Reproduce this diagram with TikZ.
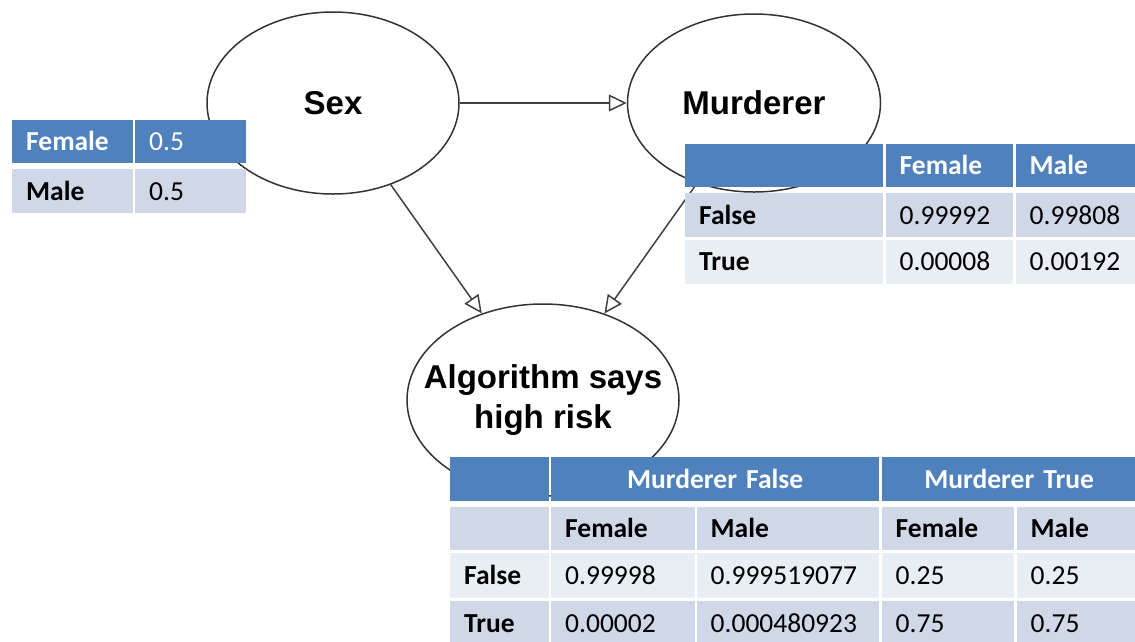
\documentclass[tikz,border=0pt]{standalone}
\usepackage{fontspec}
\setmainfont{Carlito}
\newfontfamily\arialfont{Liberation Sans}
\usetikzlibrary{positioning,shapes.geometric,arrows.meta}

\definecolor{hdrblue}{HTML}{4F81BD}
\definecolor{rowdark}{HTML}{D0D8E8}
\definecolor{rowpale}{HTML}{E9EDF4}

% table cell: style, name, x, y, width, height, text
\newcommand{\tcell}[7]{%
  \pgfmathsetmacro{\cellw}{#5-28}%
  \node[#1, minimum width=#5pt, minimum height=#6pt, text width=\cellw pt] (#2) at (#3,#4) {#7};}

\begin{document}
\begin{tikzpicture}[x=1pt, y=-1pt]
    \tikzstyle{var}=[ellipse, draw=black!80, line width=1.5pt, fill=white, inner sep=0pt, align=center, font=\arialfont\bfseries\fontsize{33}{40}\selectfont]
    \tikzstyle{edge}=[-{Triangle[open,length=18pt,width=17pt]}, draw=black!75, line width=1.5pt]
    \tikzstyle{cell}=[rectangle, anchor=north west, inner xsep=14pt, inner ysep=0pt, text height=18pt, text depth=0pt, font=\fontsize{27.5}{33}\selectfont]
    \tikzstyle{hcell}=[cell, fill=hdrblue, text=white]
    \tikzstyle{hspan}=[hcell, align=center]
    \tikzstyle{dcell}=[cell, fill=rowdark]
    \tikzstyle{pcell}=[cell, fill=rowpale]

    \useasboundingbox (0,0) rectangle (1135,641);

    \node[var, minimum width=252pt, minimum height=182pt] (sex) at (333,103) {Sex};
    \node[var, minimum width=253pt, minimum height=178pt, right=167pt of sex] (murderer) {Murderer};
    \node[var, minimum width=272pt, minimum height=192pt] (algo) at (543,400)
        {\makebox[0pt]{Algorithm says}\\\makebox[0pt]{high risk}};

    \draw[edge] (sex) -- (murderer);
    \draw[edge] (sex) -- (algo);
    \draw[edge] (murderer) -- (algo);

    % prior of sex
    \tcell{hcell}{pF}{12}{120}{121}{43}{\textbf{Female}}
    \tcell{hcell}{pFv}{135}{120}{111}{43}{0.5}
    \tcell{dcell}{pM}{12}{169}{121}{44}{\textbf{Male}}
    \tcell{dcell}{pMv}{135}{169}{111}{44}{0.5}

    % murderer given sex
    \tcell{hcell}{mH}{685}{144}{198}{43}{}
    \tcell{hcell}{mHF}{885.5}{144}{127.5}{43}{\textbf{Female}}
    \tcell{hcell}{mHM}{1015.5}{144}{121}{43}{\textbf{Male}}
    \tcell{dcell}{mF}{685}{193}{198}{44}{\textbf{False}}
    \tcell{dcell}{mFF}{885.5}{193}{127.5}{44}{0.99992}
    \tcell{dcell}{mFM}{1015.5}{193}{121}{44}{0.99808}
    \tcell{pcell}{mT}{685}{239.5}{198}{44.5}{\textbf{True}}
    \tcell{pcell}{mTF}{885.5}{239.5}{127.5}{44.5}{0.00008}
    \tcell{pcell}{mTM}{1015.5}{239.5}{121}{44.5}{0.00192}

    % algorithm given murderer and sex
    \tcell{hcell}{aH}{450}{457}{99}{44}{}
    \tcell{hspan}{aHF}{551}{457}{328}{44}{\textbf{Murderer False}}
    \tcell{hspan}{aHT}{881.5}{457}{255}{44}{\textbf{Murderer True}}
    \tcell{dcell}{aS}{450}{507}{99}{43}{}
    \tcell{dcell}{aSFF}{551}{507}{143.5}{43}{\textbf{Female}}
    \tcell{dcell}{aSFM}{696.5}{507}{182.5}{43}{\textbf{Male}}
    \tcell{dcell}{aSTF}{881.5}{507}{132.5}{43}{\textbf{Female}}
    \tcell{dcell}{aSTM}{1016.5}{507}{120}{43}{\textbf{Male}}
    \tcell{pcell}{aF}{450}{552.3}{99}{45.4}{\textbf{False}}
    \tcell{pcell}{aFFF}{551}{552.3}{143.5}{45.4}{0.99998}
    \tcell{pcell}{aFFM}{696.5}{552.3}{182.5}{45.4}{0.999519077}
    \tcell{pcell}{aFTF}{881.5}{552.3}{132.5}{45.4}{0.25}
    \tcell{pcell}{aFTM}{1016.5}{552.3}{120}{45.4}{0.25}
    \tcell{dcell}{aT}{450}{600.7}{99}{46}{\textbf{True}}
    \tcell{dcell}{aTFF}{551}{600.7}{143.5}{46}{0.00002}
    \tcell{dcell}{aTFM}{696.5}{600.7}{182.5}{46}{0.000480923}
    \tcell{dcell}{aTTF}{881.5}{600.7}{132.5}{46}{0.75}
    \tcell{dcell}{aTTM}{1016.5}{600.7}{120}{46}{0.75}
\end{tikzpicture}
\end{document}
